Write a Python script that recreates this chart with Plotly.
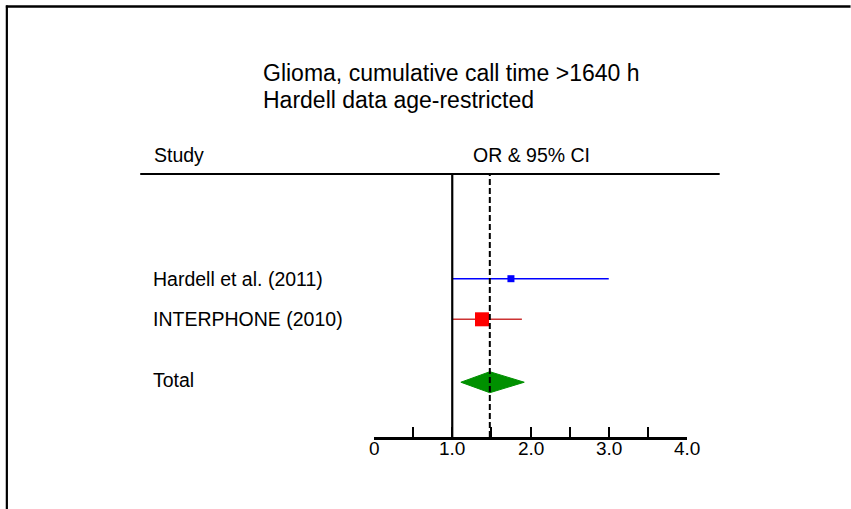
import plotly.graph_objects as go

# ---- data ----
studies = ["Hardell et al. (2011)", "INTERPHONE (2010)"]
study_or = [1.75, 1.38]
study_lo = [1.00, 1.00]
study_hi = [3.00, 1.89]
study_colors = ["#0000ff", "#ff0000"]
study_line_colors = ["#0000ff", "#cc3333"]
study_marker_sizes = [7, 14]

total_label = "Total"
total_or = 1.48
total_lo = 1.11
total_hi = 1.92

tick_vals = [0, 0.5, 1.0, 1.5, 2.0, 2.5, 3.0, 3.5, 4.0]
tick_text = ["0", "", "1.0", "", "2.0", "", "3.0", "", "4.0"]

title_lines = ["Glioma, cumulative call time >1640 h", "Hardell data age-restricted"]
col_study = "Study"
col_or = "OR & 95% CI"

# ---- layout geometry (pixels) ----
W, H = 851, 509
plot_left, plot_right = 374, 687.3
plot_top, plot_bottom = 174, 437
row_px = 40.6
first_row_px = 278.7
FONT = "Liberation Sans, Arial, sans-serif"

def px_to_paper_x(px):
    return (px - plot_left) / (plot_right - plot_left)

def px_to_paper_y(py):
    return (plot_bottom - py) / (plot_bottom - plot_top)

row_y = [0, 1]
total_y = 2.55
y_top = -(first_row_px - plot_top) / row_px
y_bot = (plot_bottom - first_row_px) / row_px

fig = go.Figure()
for i, name in enumerate(studies):
    fig.add_trace(go.Scatter(
        x=[study_lo[i], study_hi[i]], y=[row_y[i], row_y[i]],
        mode="lines", line=dict(color=study_line_colors[i], width=1.6),
        showlegend=False, hoverinfo="skip"))
    fig.add_trace(go.Scatter(
        x=[study_or[i]], y=[row_y[i]], mode="markers",
        marker=dict(symbol="square", size=study_marker_sizes[i], color=study_colors[i],
                    line=dict(width=0)),
        name=name, showlegend=False))

half_h = 10.5 / row_px
fig.add_trace(go.Scatter(
    x=[total_lo, total_or, total_hi, total_or, total_lo],
    y=[total_y, total_y - half_h, total_y, total_y + half_h, total_y],
    mode="lines", fill="toself", fillcolor="#009000",
    line=dict(color="#009000", width=1), showlegend=False, hoverinfo="skip"))

shapes = [
    dict(type="line", xref="x", yref="paper", x0=1.0, x1=1.0, y0=0, y1=1,
         line=dict(color="black", width=2.2)),
    dict(type="line", xref="x", yref="paper", x0=total_or, x1=total_or, y0=0, y1=1,
         line=dict(color="black", width=2, dash="6px,3px")),
    dict(type="line", xref="paper", yref="paper",
         x0=px_to_paper_x(140), x1=px_to_paper_x(720),
         y0=px_to_paper_y(174), y1=px_to_paper_y(174),
         line=dict(color="black", width=2.2)),
    dict(type="line", xref="paper", yref="paper",
         x0=px_to_paper_x(5.5), x1=px_to_paper_x(851),
         y0=px_to_paper_y(6.5), y1=px_to_paper_y(6.5),
         line=dict(color="black", width=2.6)),
    dict(type="line", xref="paper", yref="paper",
         x0=px_to_paper_x(6.5), x1=px_to_paper_x(6.5),
         y0=px_to_paper_y(5.5), y1=px_to_paper_y(509),
         line=dict(color="black", width=2.2)),
]

annotations = []
for i, t in enumerate(title_lines):
    annotations.append(dict(text=t, xref="paper", yref="paper",
                            x=px_to_paper_x(261), y=px_to_paper_y(73 + 27 * i),
                            xanchor="left", yanchor="middle", showarrow=False,
                            font=dict(size=23, color="black", family=FONT)))
annotations.append(dict(text=col_study, xref="paper", yref="paper",
                        x=px_to_paper_x(152), y=px_to_paper_y(155),
                        xanchor="left", yanchor="middle", showarrow=False,
                        font=dict(size=19.5, color="black", family=FONT)))
annotations.append(dict(text=col_or, xref="paper", yref="paper",
                        x=px_to_paper_x(471), y=px_to_paper_y(155),
                        xanchor="left", yanchor="middle", showarrow=False,
                        font=dict(size=19.5, color="black", family=FONT)))
for i, name in enumerate(studies):
    annotations.append(dict(text=name, xref="paper", yref="y",
                            x=px_to_paper_x(151), y=row_y[i],
                            xanchor="left", yanchor="middle", showarrow=False,
                            font=dict(size=19.5, color="black", family=FONT)))
annotations.append(dict(text=total_label, xref="paper", yref="y",
                        x=px_to_paper_x(151), y=total_y - 0.05,
                        xanchor="left", yanchor="middle", showarrow=False,
                        font=dict(size=19.5, color="black", family=FONT)))
for v, t in zip(tick_vals, tick_text):
    if t:
        annotations.append(dict(text=t, xref="x", yref="paper",
                                x=v, y=px_to_paper_y(448),
                                xanchor="center", yanchor="middle", showarrow=False,
                                font=dict(size=19, color="black", family=FONT)))

fig.update_layout(
    width=W, height=H,
    margin=dict(l=plot_left, r=W - plot_right, t=plot_top, b=H - plot_bottom, pad=0),
    paper_bgcolor="white", plot_bgcolor="white",
    shapes=shapes, annotations=annotations,
    xaxis=dict(range=[0, 4], tickvals=tick_vals, showticklabels=False,
               showline=True, linecolor="black", linewidth=2.5,
               ticks="inside", ticklen=10, tickwidth=2, tickcolor="black",
               showgrid=False, zeroline=False, fixedrange=True),
    yaxis=dict(range=[y_bot, y_top], visible=False, showgrid=False,
               zeroline=False, fixedrange=True),
    showlegend=False,
)

fig.write_html("out.html", config={"displayModeBar": False})
with open("out.html", "r", encoding="utf-8") as f:
    html = f.read()
html = html.replace("<head>", "<head><style>html,body{margin:0;padding:0;overflow:hidden;background:#fff}</style>", 1)
with open("out.html", "w", encoding="utf-8") as f:
    f.write(html)
